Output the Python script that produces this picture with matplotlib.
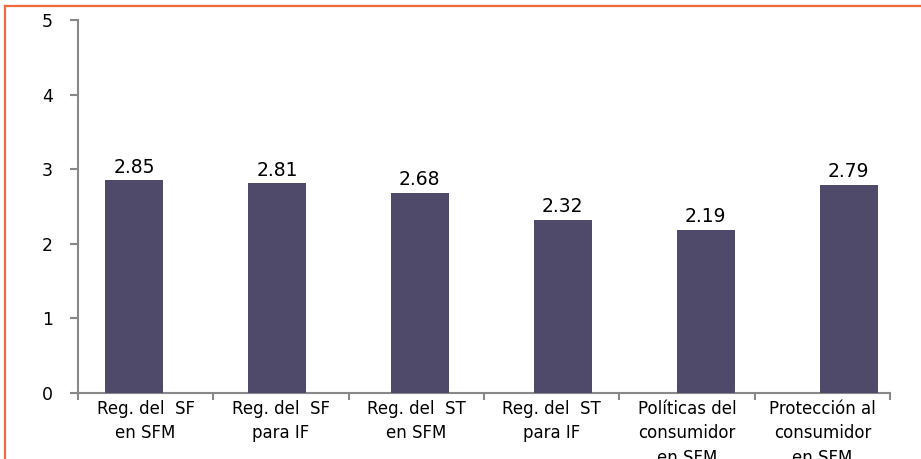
import matplotlib.pyplot as plt
from matplotlib.lines import Line2D

# datos
categorias = ['Reg. del  SF\nen SFM', 'Reg. del  SF\npara IF', 'Reg. del  ST\nen SFM',
              'Reg. del  ST\npara IF', 'Políticas del\nconsumidor\nen SFM',
              'Protección al\nconsumidor\nen SFM']
valores = [2.85, 2.81, 2.68, 2.32, 2.19, 2.79]

plt.rcParams['font.family'] = ['DejaVu Sans']

fig = plt.figure(figsize=(9.21, 4.59), dpi=100)
rect = [0.0847, 0.1438, 0.8817, 0.8126]
ax = fig.add_axes(rect)

# eje de categorias (etiquetas y marcas)
ax.set_xlim(-0.5, len(valores) - 0.5)
ax.set_ylim(0, 5)
ax.set_yticks(range(6))
ax.tick_params(axis='y', labelsize=12.5, color='#888888', length=6, width=1.5, pad=12)
ax.set_xticks(range(len(categorias)))
ax.set_xticklabels(categorias, fontsize=12, linespacing=1.45, va='top')
ax.tick_params(axis='x', which='major', length=0, pad=5)
ax.set_xticks([i - 0.5 for i in range(len(valores) + 1)], minor=True)
ax.tick_params(axis='x', which='minor', length=5, width=1.5, color='#888888')
for s in ['top', 'right']:
    ax.spines[s].set_visible(False)
for s in ['left', 'bottom']:
    ax.spines[s].set_color('#888888')
    ax.spines[s].set_linewidth(1.5)

# las barras van en su propia escala (un poco mas ancha que la del eje)
axb = fig.add_axes(rect, sharey=ax, frameon=False)
axb.set_xlim(-0.392, 5.290)
axb.set_xticks([])
axb.tick_params(axis='y', left=False, labelleft=False)
x = range(len(valores))
axb.bar(x, valores, width=0.406, color='#4F4A6A', zorder=2)
for i, v in zip(x, valores):
    axb.text(i, v + 0.05, f'{v:.2f}', ha='center', va='bottom', fontsize=13.5)

# marco naranja
fig.add_artist(Line2D([0.0054, 1.0], [0.986, 0.986], color='#F26A38', lw=1.6))
fig.add_artist(Line2D([0.0054, 0.0054], [0.0, 0.986], color='#F26A38', lw=1.6))

fig.savefig('out.png', dpi=100)
